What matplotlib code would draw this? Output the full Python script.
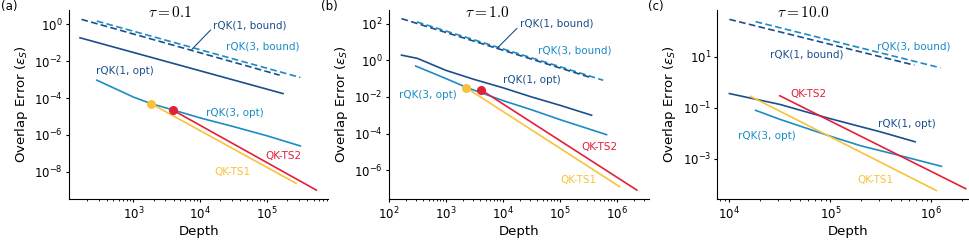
import matplotlib
matplotlib.use('Agg')
import matplotlib.pyplot as plt
import matplotlib.ticker as mticker

plt.rcParams['font.family'] = 'DejaVu Sans'

dark = '#1b4f8c'
light = '#1b8cc4'
red = '#e3203a'
yellow = '#f9c23c'

# ---- panel (a), tau = 0.1 ----
a_b1_x = [166, 1.55e5]
a_b1_y = [1.86, 1.74e-3]
a_b3_x = [282, 3.16e5]
a_b3_y = [1.5, 1.3e-3]
a_o1_x = [158, 1.74e5]
a_o1_y = [0.186, 1.74e-4]
a_o3_x = [282, 1000, 1820, 4000, 1e4, 3.16e4, 1e5, 3.16e5]
a_o3_y = [9.3e-4, 1.12e-4, 5.0e-5, 2.2e-5, 8.3e-6, 2.8e-6, 8.9e-7, 2.5e-7]
a_ts1_x = [1820, 2.75e5]
a_ts1_y = [5.0e-5, 2.3e-9]
a_ts2_x = [3890, 5.5e5]
a_ts2_y = [2.2e-5, 1.0e-9]
a_yticks = [1e-8, 1e-6, 1e-4, 1e-2, 1]

# ---- panel (b), tau = 1.0 ----
b_b1_x = [166, 3.6e5]
b_b1_y = [186, 0.11]
b_b3_x = [309, 5.75e5]
b_b3_y = [123, 0.081]
b_o1_x = [166, 316, 1000, 3160, 1e4, 3.16e4, 1e5, 3.6e5]
b_o1_y = [1.9, 1.26, 0.28, 0.089, 0.0316, 0.01, 3.5e-3, 1.0e-3]
b_o3_x = [295, 1000, 2290, 1e4, 3.16e4, 1e5, 6.6e5]
b_o3_y = [0.48, 0.1, 0.033, 6.3e-3, 2.0e-3, 5.8e-4, 8.7e-5]
b_ts1_x = [2290, 1.12e6]
b_ts1_y = [0.031, 1.26e-7]
b_ts2_x = [4070, 2.24e6]
b_ts2_y = [0.025, 8.3e-8]
b_yticks = [1e-6, 1e-4, 1e-2, 1, 1e2]

# ---- panel (c), tau = 10.0 ----
c_b1_x = [1e4, 6.8e5]
c_b1_y = [295, 4.7]
c_b3_x = [1.82e4, 1.23e6]
c_b3_y = [240, 3.7]
c_o1_x = [1e4, 3.16e4, 1e5, 3.16e5, 6.9e5]
c_o1_y = [0.36, 0.135, 0.037, 0.0112, 4.6e-3]
c_o3_x = [1.82e4, 3.16e4, 1e5, 2e5, 4.3e5, 1.26e6]
c_o3_y = [0.079, 0.035, 7.6e-3, 3.2e-3, 1.5e-3, 5.0e-4]
c_ts1_x = [1.62e4, 1.12e6]
c_ts1_y = [0.28, 5.6e-5]
c_ts2_x = [3.16e4, 2.19e6]
c_ts2_y = [0.295, 6.6e-5]
c_yticks = [1e-3, 1e-1, 1e1]

fig = plt.figure(figsize=(9.69, 2.42), dpi=100)
ax_a = fig.add_axes([0.0712, 0.1777, 0.2676, 0.781])
ax_b = fig.add_axes([0.4014, 0.1777, 0.2686, 0.781])
ax_c = fig.add_axes([0.7403, 0.1777, 0.2690, 0.781])

panels = [
    (ax_a, a_b1_x, a_b1_y, a_b3_x, a_b3_y, a_o1_x, a_o1_y, a_o3_x, a_o3_y,
     a_ts1_x, a_ts1_y, a_ts2_x, a_ts2_y, a_yticks, True),
    (ax_b, b_b1_x, b_b1_y, b_b3_x, b_b3_y, b_o1_x, b_o1_y, b_o3_x, b_o3_y,
     b_ts1_x, b_ts1_y, b_ts2_x, b_ts2_y, b_yticks, True),
    (ax_c, c_b1_x, c_b1_y, c_b3_x, c_b3_y, c_o1_x, c_o1_y, c_o3_x, c_o3_y,
     c_ts1_x, c_ts1_y, c_ts2_x, c_ts2_y, c_yticks, False),
]

for (ax, b1x, b1y, b3x, b3y, o1x, o1y, o3x, o3y,
     t1x, t1y, t2x, t2y, yt, dots) in panels:
    ax.plot(b3x, b3y, color=light, ls=(0, (4, 2)), lw=1.2)
    ax.plot(b1x, b1y, color=dark, ls=(0, (4, 2)), lw=1.2)
    ax.plot(o1x, o1y, color=dark, lw=1.2)
    ax.plot(o3x, o3y, color=light, lw=1.2)
    ax.plot(t1x, t1y, color=yellow, lw=1.2)
    ax.plot(t2x, t2y, color=red, lw=1.2)
    if dots:
        ax.plot(t1x[0], t1y[0], 'o', color=yellow, ms=5.5)
        ax.plot(t2x[0], t2y[0], 'o', color=red, ms=5.5)
    ax.set_xscale('log')
    ax.set_yscale('log')
    ax.yaxis.set_major_locator(mticker.FixedLocator(yt))
    ax.yaxis.set_major_formatter(mticker.LogFormatterSciNotation())
    ax.yaxis.set_minor_locator(mticker.NullLocator())
    ax.spines['top'].set_visible(False)
    ax.spines['right'].set_visible(False)
    ax.tick_params(which='major', length=2.5, width=0.8, labelsize=8.5, pad=2)
    ax.tick_params(which='minor', length=1.5, width=0.6)
    ax.set_xlabel('Depth', fontsize=9.5, labelpad=2)
    ax.set_ylabel(r'Overlap Error ($\varepsilon_S$)', fontsize=9.5, labelpad=3)

ax_a.set_xlim(108, 8.3e5)
ax_a.set_ylim(3.3e-10, 6.0)
ax_b.set_xlim(100, 3.7e6)
ax_b.set_ylim(2.7e-8, 550)
ax_c.set_xlim(7.6e3, 2.9e6)
ax_c.set_ylim(2.6e-5, 690)

fs = 7.5
# (a) labels
ax_a.annotate('rQK(1, bound)', xy=(7.5e3, 0.044), xytext=(5.6e4, 0.91),
              color=dark, fontsize=fs, ha='center', va='center',
              arrowprops=dict(arrowstyle='-', color=dark, lw=0.8,
                              shrinkA=0, shrinkB=0, relpos=(0.0, 0.3)))
ax_a.text(8.7e4, 0.06, 'rQK(3, bound)', color=light, fontsize=fs, ha='center', va='center')
ax_a.text(750, 2.9e-3, 'rQK(1, opt)', color=dark, fontsize=fs, ha='center', va='center')
ax_a.text(3.35e4, 1.6e-5, 'rQK(3, opt)', color=light, fontsize=fs, ha='center', va='center')
ax_a.text(1.76e5, 7.2e-8, 'QK-TS2', color=red, fontsize=fs, ha='center', va='center')
ax_a.text(3.0e4, 9.8e-9, 'QK-TS1', color=yellow, fontsize=fs, ha='center', va='center')

# (b) labels
ax_b.annotate('rQK(1, bound)', xy=(7.8e3, 4.3), xytext=(8.7e4, 100),
              color=dark, fontsize=fs, ha='center', va='center',
              arrowprops=dict(arrowstyle='-', color=dark, lw=0.8,
                              shrinkA=0, shrinkB=0, relpos=(0.0, 0.3)))
ax_b.text(1.8e5, 3.2, 'rQK(3, bound)', color=light, fontsize=fs, ha='center', va='center')
ax_b.text(3.2e4, 0.081, 'rQK(1, opt)', color=dark, fontsize=fs, ha='center', va='center')
ax_b.text(490, 0.0135, 'rQK(3, opt)', color=light, fontsize=fs, ha='center', va='center')
ax_b.text(5.0e5, 1.95e-5, 'QK-TS2', color=red, fontsize=fs, ha='center', va='center')
ax_b.text(2.1e5, 3.0e-7, 'QK-TS1', color=yellow, fontsize=fs, ha='center', va='center')

# (c) labels
ax_c.text(6.7e5, 26, 'rQK(3, bound)', color=light, fontsize=fs, ha='center', va='center')
ax_c.text(5.9e4, 12.4, 'rQK(1, bound)', color=dark, fontsize=fs, ha='center', va='center')
ax_c.text(6.0e4, 0.36, 'QK-TS2', color=red, fontsize=fs, ha='center', va='center')
ax_c.text(5.75e5, 0.022, 'rQK(1, opt)', color=dark, fontsize=fs, ha='center', va='center')
ax_c.text(2.37e4, 7.6e-3, 'rQK(3, opt)', color=light, fontsize=fs, ha='center', va='center')
ax_c.text(2.8e5, 1.4e-4, 'QK-TS1', color=yellow, fontsize=fs, ha='center', va='center')

# titles inside the axes
for ax, t, xf in [(ax_a, r'$\tau = 0.1$', 0.392), (ax_b, r'$\tau = 1.0$', 0.38),
                  (ax_c, r'$\tau = 10.0$', 0.33)]:
    ax.text(xf, 0.985, t, transform=ax.transAxes, ha='center', va='center',
            fontsize=11, math_fontfamily='cm')

fig.text(0.001, 0.975, '(a)', fontsize=8.5, ha='left', va='center')
fig.text(0.331, 0.975, '(b)', fontsize=8.5, ha='left', va='center')
fig.text(0.669, 0.975, '(c)', fontsize=8.5, ha='left', va='center')

fig.savefig('out.png', dpi=100)
